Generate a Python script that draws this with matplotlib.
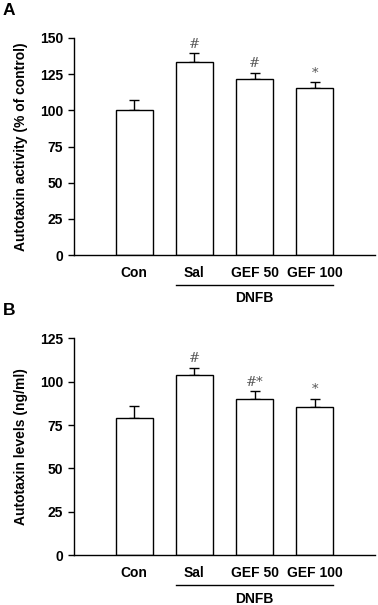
import matplotlib
matplotlib.use('Agg')
import matplotlib.pyplot as plt
import numpy as np

plt.rcParams['font.family'] = ['Liberation Sans', 'DejaVu Sans']

groups = ['Con', 'Sal', 'GEF 50', 'GEF 100']

# panel A: autotaxin activity (% of control)
activity = [100, 133.5, 122, 115.5]
activity_err = [7, 6, 4, 4]
activity_marks = ['', '#', '#', '*']

# panel B: autotaxin levels (ng/ml)
levels = [79, 104, 90, 85.5]
levels_err = [7, 4, 4.5, 4.6]
levels_marks = ['', '#', '#*', '*']

fig = plt.figure(figsize=(3.78, 6.05), dpi=100)
FS = 10


def panel(rect, vals, errs, marks, ylabel, ymax, step, letter, letter_y):
    ax = fig.add_axes(rect)
    x = np.arange(len(groups))
    ax.bar(x, vals, width=0.62, color='white', edgecolor='black', linewidth=1.0, zorder=2)
    ax.errorbar(x, vals, yerr=[np.zeros(len(vals)), errs], fmt='none',
                ecolor='black', elinewidth=1.0, capsize=3.5, capthick=1.0, zorder=1)
    for xi, v, e, m in zip(x, vals, errs, marks):
        if m:
            ax.text(xi, v + e + ymax * 0.012, m, ha='center', va='bottom',
                    fontsize=9.5, color='#555555', family='DejaVu Serif')
    ax.set_xlim(-1, 4)
    ax.set_ylim(0, ymax)
    ax.set_yticks(np.arange(0, ymax + 0.1, step))
    ax.set_xticks(x)
    ax.set_xticklabels(groups, fontweight='bold', fontsize=FS)
    for lab in ax.get_yticklabels():
        lab.set_fontweight('bold')
        lab.set_fontsize(FS)
    ax.tick_params(axis='x', length=0, pad=8)
    ax.tick_params(axis='y', direction='out', length=4.3, width=1.0, pad=3.5)
    ax.spines['top'].set_visible(False)
    ax.spines['right'].set_visible(False)
    ax.spines['left'].set_linewidth(1.0)
    ax.spines['bottom'].set_linewidth(1.0)
    ax.set_ylabel(ylabel, fontweight='bold', fontsize=FS, labelpad=9)
    tr = ax.get_xaxis_transform()
    ax.plot([0.69, 3.31], [-0.138, -0.138], color='black', lw=1.0,
            transform=tr, clip_on=False)
    ax.text(2.0, -0.2, 'DNFB', ha='center', va='center', fontweight='bold',
            fontsize=FS, transform=tr)
    fig.text(0.008, letter_y, letter, fontweight='bold',
             fontsize=12.5, ha='left', va='center')
    return ax


panel([0.196, 0.5785, 0.796, 0.3587], activity, activity_err, activity_marks,
      'Autotaxin activity (% of control)', 150, 25, 'A', 0.982)
panel([0.196, 0.0822, 0.796, 0.3586], levels, levels_err, levels_marks,
      'Autotaxin levels (ng/ml)', 125, 25, 'B', 0.486)

fig.savefig('out.png', dpi=100)
